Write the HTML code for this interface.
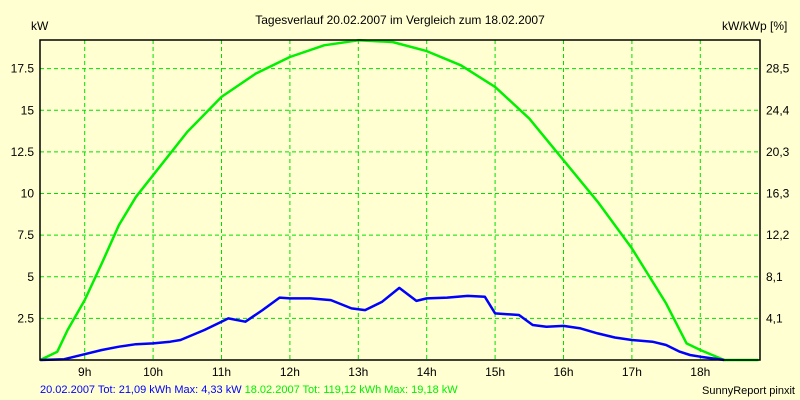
<!DOCTYPE html>
<html><head><meta charset="utf-8"><style>
body{margin:0;background:#ffffd2;}
svg{display:block;font-family:"Liberation Sans",sans-serif;font-size:12px;}
</style></head><body>
<svg id="chart" width="800" height="400" viewBox="0 0 800 400">
<rect width="800" height="400" fill="#ffffd2"/>
<text x="400" y="24" text-anchor="middle" fill="#000">Tagesverlauf 20.02.2007 im Vergleich zum 18.02.2007</text>
<text x="31" y="30" fill="#000">kW</text>
<text x="722" y="30" fill="#000">kW/kWp [%]</text>
<g id="grid"></g>
<g id="ticks"></g>
<g id="series"></g>
<rect x="40" y="40" width="720" height="320" fill="none" stroke="#000" stroke-width="1.5"/>
<text x="40" y="393" font-size="11"><tspan fill="#0000ff">20.02.2007 Tot: 21,09 kWh Max: 4,33 kW</tspan><tspan fill="#00f000"> 18.02.2007 Tot: 119,12 kWh Max: 19,18 kW</tspan></text>
<text x="795" y="394" text-anchor="end" font-size="11" fill="#000">SunnyReport pinxit</text>
</svg>
<script>
const yTicks=[2.5,5,7.5,10,12.5,15,17.5];
const yTickLabels=["2.5","5","7.5","10","12.5","15","17.5"];
const rightTickLabels=["4,1","8,1","12,2","16,3","20,3","24,4","28,5"];
const xHours=[9,10,11,12,13,14,15,16,17,18];
const greenT=[8.35,8.6,8.75,9,9.25,9.5,9.75,10,10.5,11,11.5,12,12.5,13,13.5,14,14.5,15,15.5,16,16.5,17,17.5,17.8,18,18.35,18.85];
const greenV=[0,0.5,1.8,3.6,5.8,8.1,9.8,11.1,13.7,15.8,17.2,18.2,18.9,19.2,19.1,18.55,17.7,16.4,14.5,12,9.5,6.7,3.4,1.0,0.6,0,0];
const blueT=[8.35,8.7,9,9.25,9.5,9.75,10,10.25,10.4,10.75,11,11.1,11.35,11.6,11.85,12,12.3,12.6,12.9,13.1,13.35,13.6,13.85,14,14.3,14.6,14.85,15,15.35,15.55,15.75,16,16.25,16.5,16.75,17,17.3,17.5,17.7,17.85,18,18.35];
const blueV=[0,0.05,0.35,0.6,0.8,0.95,1.0,1.1,1.2,1.8,2.3,2.5,2.3,3.0,3.75,3.7,3.7,3.6,3.1,3.0,3.5,4.33,3.55,3.7,3.75,3.85,3.8,2.8,2.7,2.1,2.0,2.05,1.9,1.6,1.35,1.2,1.1,0.9,0.5,0.3,0.2,0];
const NS="http://www.w3.org/2000/svg";
const x=h=>84.7+(h-9)*68.4;
const y=v=>360-v*16.65;
function mk(tag,attrs,parent,text){const e=document.createElementNS(NS,tag);for(const k in attrs)e.setAttribute(k,attrs[k]);if(text!==undefined)e.textContent=text;parent.appendChild(e);return e;}
const grid=document.getElementById('grid'),ticks=document.getElementById('ticks'),series=document.getElementById('series');
yTicks.forEach((v,i)=>{
  const l=mk('line',{x1:40,x2:760,y1:y(v),y2:y(v),stroke:'#00e000','stroke-dasharray':'4,3'},grid);
  
  
  const t=mk('text',{x:34,y:y(v)+4,'text-anchor':'end'},ticks,yTickLabels[i]);
  
  
  const r=mk('text',{x:766,y:y(v)+4},ticks,rightTickLabels[i]);
  
  
});
xHours.forEach(h=>{
  const l=mk('line',{x1:x(h),x2:x(h),y1:40,y2:360,stroke:'#00e000','stroke-dasharray':'4,3'},grid);
  
  
  const t=mk('text',{x:x(h),y:376,'text-anchor':'middle'},ticks,h+'h');
  
  
});
function line(T,V,color,name){
  const d=T.map((t,i)=>(i?'L':'M')+x(t).toFixed(1)+' '+y(V[i]).toFixed(1)).join(' ');
  const p=mk('path',{d:d,fill:'none',stroke:color,'stroke-width':2.5,'stroke-linejoin':'round'},series);
  
  
}
line(greenT,greenV,'#00f000','line-18-02-2007');
line(blueT,blueV,'#0000ff','line-20-02-2007');
</script>
</body></html>
